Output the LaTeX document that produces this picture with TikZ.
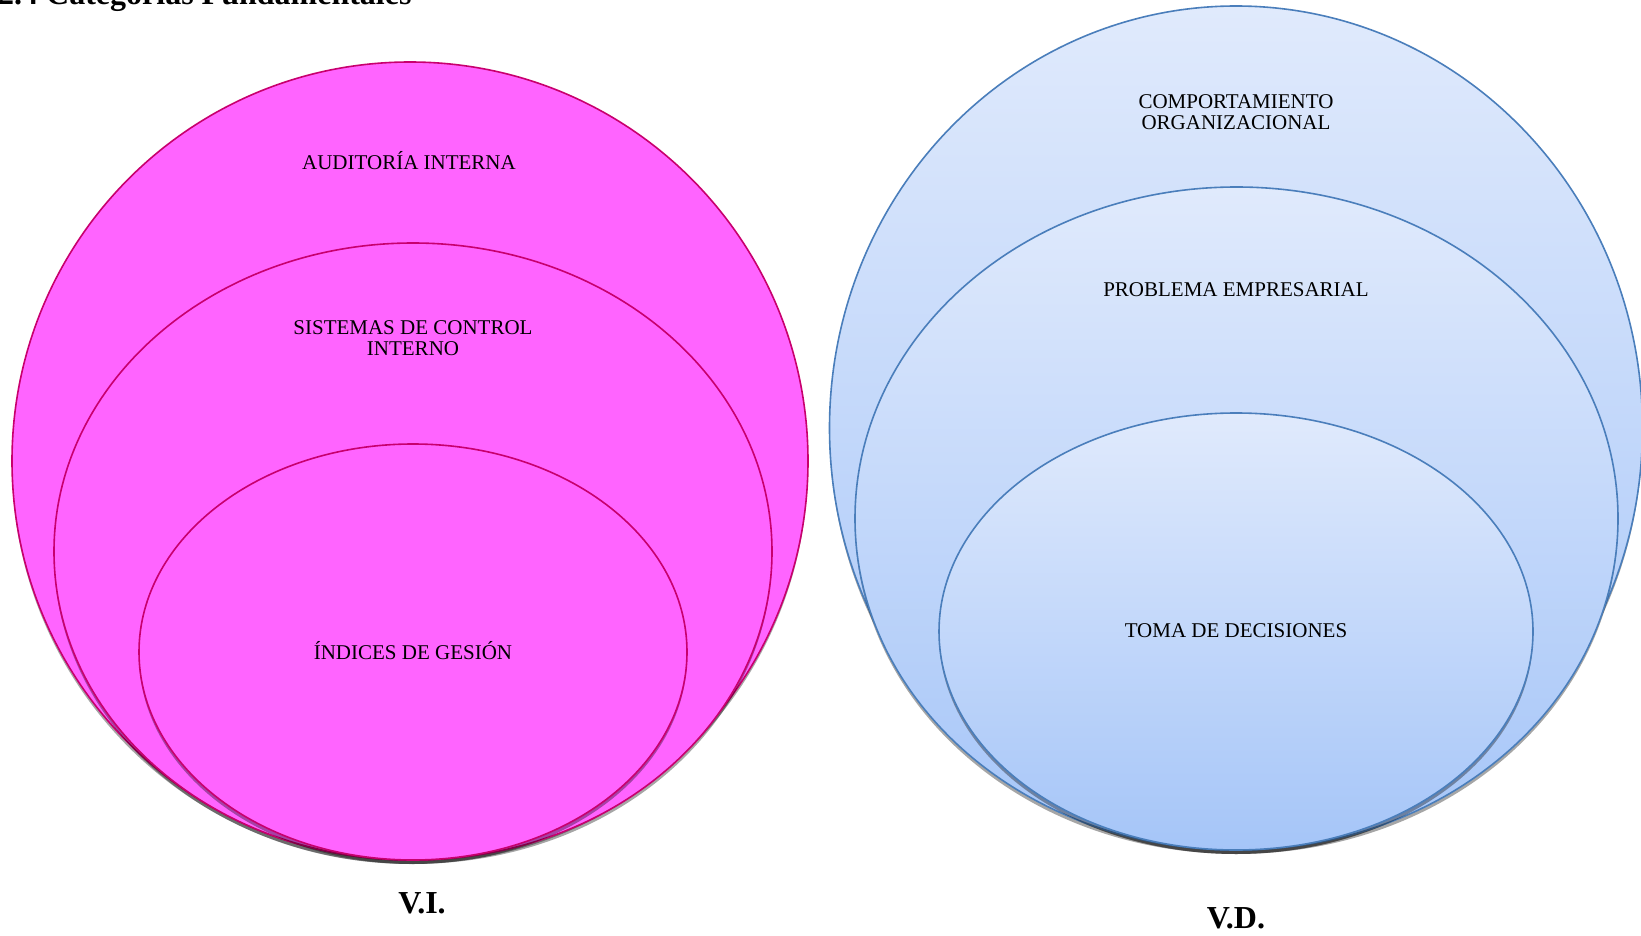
\documentclass[tikz,border=0pt]{standalone}
\usepackage{fontspec}
\setmainfont{Liberation Serif}
\usetikzlibrary{shapes.geometric,shadows}
\definecolor{pinkfill}{RGB}{255,100,255}
\definecolor{pinkline}{RGB}{200,0,110}
\definecolor{bluetop}{RGB}{224,234,252}
\definecolor{bluebot}{RGB}{165,197,248}
\definecolor{blueline}{RGB}{74,126,187}
\tikzset{
  pinkell/.style={ellipse, draw=pinkline, line width=1.6pt, fill=pinkfill, inner sep=0pt,
    drop shadow={shadow xshift=0pt, shadow yshift=-4pt, opacity=0.35, fill=black}},
  blueell/.style={ellipse, draw=blueline, line width=1.6pt, top color=bluetop, bottom color=bluebot, inner sep=0pt,
    drop shadow={shadow xshift=0pt, shadow yshift=-4pt, opacity=0.35, fill=black}},
  lbl/.style={align=center, font=\fontsize{21}{21}\selectfont, inner sep=0pt},
  big/.style={font=\fontsize{32}{34}\selectfont\bfseries, inner sep=0pt}
}
\begin{document}
\begin{tikzpicture}[x=1pt,y=-1pt]
\useasboundingbox (0,0) rectangle (1641,936);
% title (cut at top)
\node[big, anchor=base west] (title) at (-2,5) {2.4 Categorías Fundamentales};
% left set
\node[pinkell, minimum width=796pt, minimum height=798pt] (lo) at (410,461) {};
\node[pinkell, minimum width=718pt, minimum height=617pt] (lm) at (413,551.5) {};
\node[pinkell, minimum width=548pt, minimum height=416pt] (li) at (413,652) {};
\node[lbl] (t1) at (409,161) {AUDITORÍA INTERNA};
\node[lbl] (t2) at (413,338) {SISTEMAS DE CONTROL\\INTERNO};
\node[lbl] (t3) at (413,651) {ÍNDICES DE GESIÓN};
\node[big] (vi) at (422,903) {V.I.};
% right set
\node[blueell, minimum width=813pt, minimum height=844pt] (ro) at (1236,428) {};
\node[blueell, minimum width=763pt, minimum height=663pt] (rm) at (1236.5,518.5) {};
\node[blueell, minimum width=594pt, minimum height=437pt] (ri) at (1236,631.5) {};
\node[lbl] (t4) at (1236,112) {COMPORTAMIENTO\\ORGANIZACIONAL};
\node[lbl] (t5) at (1236,290) {PROBLEMA EMPRESARIAL};
\node[lbl] (t6) at (1236,631) {TOMA DE DECISIONES};
\node[big] (vd) at (1236,918) {V.D.};
\end{tikzpicture}
\end{document}
